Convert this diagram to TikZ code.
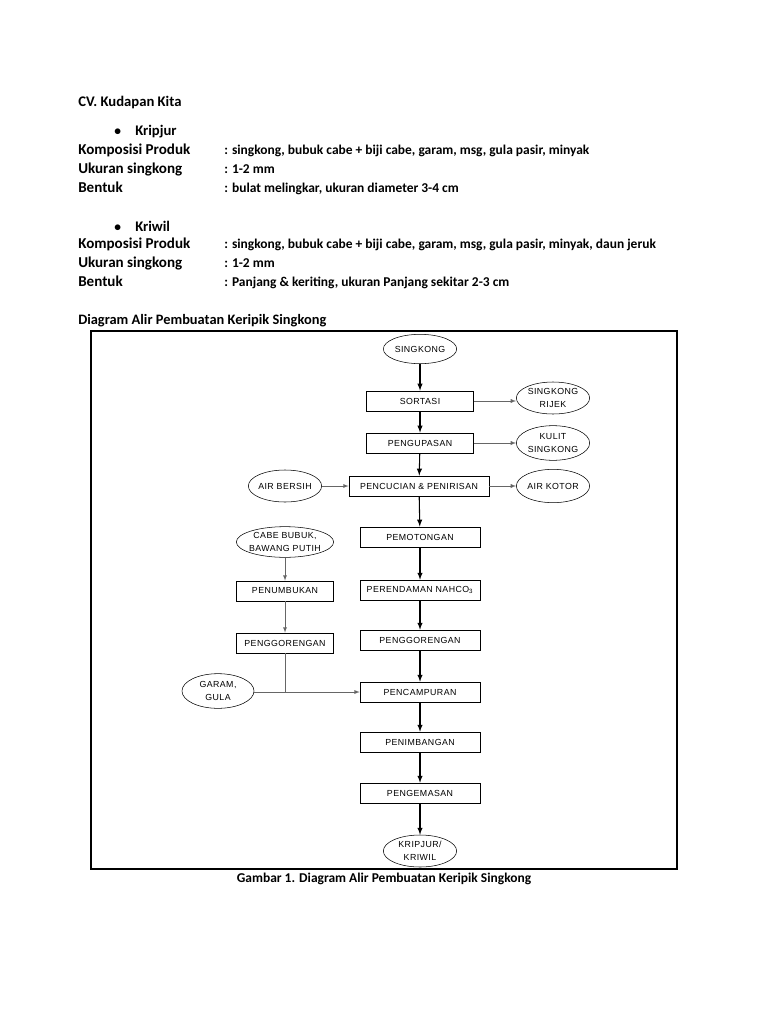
\documentclass[tikz,border=0pt]{standalone}
\usepackage{fontspec}
\setmainfont{Carlito}
\newfontfamily\diafont[LetterSpace=5]{Liberation Sans}
\usetikzlibrary{shapes,arrows,positioning,calc}

\begin{document}
\begin{tikzpicture}[x=0.75pt,y=-0.75pt,
    txt/.style={anchor=base west,inner sep=0pt,font=\fontsize{10.1}{12}\selectfont\bfseries},
    proc/.style={draw,rectangle,line width=0.6pt,minimum height=15pt,inner sep=1pt,
        font=\diafont\fontsize{6.6}{7.5}\selectfont},
    term/.style={draw,ellipse,line width=0.4pt,minimum width=55pt,minimum height=24pt,inner sep=0pt},
    every label/.style={font=\diafont\fontsize{6.6}{9.5}\selectfont,align=center,inner sep=0pt},
    flow/.style={-latex,line width=0.8pt},
    side/.style={-latex,line width=0.4pt,draw=black!60}]
    \useasboundingbox (0,0) rectangle (768,1024);

    % text above the diagram
    \node[txt,font=\fontsize{11}{13}\selectfont\bfseries] (judul) at (78,106) {CV. Kudapan Kita};
    \foreach \y/\nama in {135/Kripjur,231/Kriwil} {
        \node[txt] (dot\y) at (114,\y) {\textbullet};
        \node[txt,font=\fontsize{11}{13}\selectfont\bfseries] (prod\y) at (135,\y) {\nama};
    }
    \foreach \y/\lab/\val in {
        154/Komposisi Produk/{: singkong, bubuk cabe + biji cabe, garam, msg, gula pasir, minyak},
        173/Ukuran singkong/{: 1-2 mm},
        192/Bentuk/{: bulat melingkar, ukuran diameter 3-4 cm},
        248/Komposisi Produk/{: singkong, bubuk cabe + biji cabe, garam, msg, gula pasir, minyak, daun jeruk},
        267/Ukuran singkong/{: 1-2 mm},
        286/Bentuk/{: Panjang \& keriting, ukuran Panjang sekitar 2-3 cm}} {
        \node[txt,font=\fontsize{11.3}{13}\selectfont\bfseries] (lab\y) at (78,\y) {\lab};
        \node[txt] (val\y) at (224,\y) {\val};
    }
    \node[txt,font=\fontsize{10.8}{13}\selectfont\bfseries] (sub) at (78,324) {Diagram Alir Pembuatan Keripik Singkong};

    % frame and caption
    \draw[line width=0.9pt] (91,331) rectangle (677,869);
    \node[font=\fontsize{10.1}{12}\selectfont\bfseries,inner sep=0pt] (caption) at (384,879)
        {Gambar 1. Diagram Alir Pembuatan Keripik Singkong};

    % main column
    \node[term,minimum height=22pt,label=center:SINGKONG] (singkong) at (420,349) {};
    \node[proc,minimum width=80pt] (sortasi) at (420,401) {SORTASI};
    \node[proc,minimum width=80pt] (kupas) at (420,443) {PENGUPASAN};
    \node[proc,minimum width=105pt] (cuci) at (419,486) {PENCUCIAN \& PENIRISAN};
    \node[proc,minimum width=90pt] (potong) at (420,537) {PEMOTONGAN};
    \node[proc,minimum width=90pt,line width=0.4pt] (rendam) at (420,590) {PERENDAMAN NAHCO\textsubscript{3}};
    \node[proc,minimum width=90pt,line width=0.4pt] (goreng) at (420,640) {PENGGORENGAN};
    \node[proc,minimum width=90pt,line width=0.4pt] (campur) at (420,692) {PENCAMPURAN};
    \node[proc,minimum width=90pt,line width=0.4pt] (timbang) at (420,742) {PENIMBANGAN};
    \node[proc,minimum width=90pt,line width=0.4pt] (kemas) at (420,793) {PENGEMASAN};
    \node[term,label=center:{KRIPJUR/\\KRIWIL}] (hasil) at (420,851) {};

    % side inputs and outputs
    \node[term,label=center:{SINGKONG\\RIJEK}] (rijek) at (553,398) {};
    \node[term,minimum height=26pt,label=center:{KULIT\\SINGKONG}] (kulit) at (553,443) {};
    \node[term,minimum height=25pt,label=center:AIR KOTOR] (kotor) at (553,486) {};
    \node[term,label=center:AIR BERSIH] (bersih) at (285,486) {};
    \node[term,minimum width=73pt,minimum height=23pt,label=center:{CABE BUBUK,\\BAWANG PUTIH}] (cabe) at (285,542) {};
    \node[proc,minimum width=73pt] (tumbuk) at (285,591) {PENUMBUKAN};
    \node[proc,minimum width=73pt] (gorengkiri) at (285,643) {PENGGORENGAN};
    \node[term,minimum width=54pt,minimum height=26pt,label=center:{GARAM,\\GULA}] (garam) at (218,691) {};

    \foreach \a/\b in {singkong/sortasi,sortasi/kupas,kupas/cuci,cuci/potong,potong/rendam,
        rendam/goreng,goreng/campur,campur/timbang,timbang/kemas,kemas/hasil}
        \draw[flow] (\a) -- (\b);
    \draw[side] (sortasi.east) -- (sortasi.east -| rijek.west);
    \draw[side] (kupas.east) -- (kupas.east -| kulit.west);
    \draw[side] (cuci.east) -- (kotor.west);
    \draw[side] (bersih.east) -- (cuci.west);
    \draw[side] (cabe) -- (tumbuk);
    \draw[side] (tumbuk) -- (gorengkiri);
    \draw[line width=0.4pt,black!60] (gorengkiri.south) -- (gorengkiri.south |- campur.west);
    \draw[side] (garam.east |- campur.west) -- (campur.west);
\end{tikzpicture}
\end{document}
